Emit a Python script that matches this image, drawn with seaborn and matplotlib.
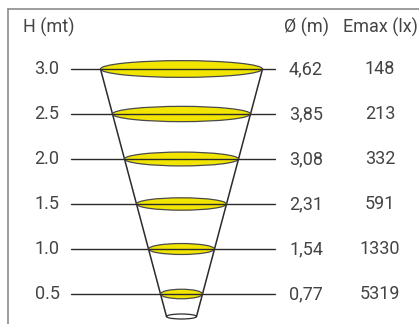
import numpy as np
import pandas as pd
import matplotlib
matplotlib.use("Agg")
import matplotlib.pyplot as plt
import seaborn as sns
from matplotlib.patches import Ellipse
from matplotlib.lines import Line2D

heights = [3.0, 2.5, 2.0, 1.5, 1.0, 0.5]
height_labels = ["3.0", "2.5", "2.0", "1.5", "1.0", "0.5"]
diameters = [4.62, 3.85, 3.08, 2.31, 1.54, 0.77]
diameter_labels = ["4,62", "3,85", "3,08", "2,31", "1,54", "0,77"]
emax = [148, 213, 332, 591, 1330, 5319]

sns.set_theme(style="white")
plt.rcParams["font.family"] = ["Roboto", "DejaVu Sans"]

W, H = 419, 324
fig = plt.figure(figsize=(W / 100, H / 100), dpi=100)
ax = fig.add_axes([0, 0, 1, 1])

# pixel scale: 90 px per metre of height, ~31.2 px per metre of diameter
px_x = 31.17
px_y = 90.0
cx = 181.5
ax.set_xlim(-cx / px_x, (W - cx) / px_x)
ax.set_ylim(3.0 - (H - 69) / px_y, 3.0 + 69 / px_y)
ax.axis("off")

stem = 0.578  # width of the fixture opening added to every ring
text_col = "#444444"
line_col = "#2b2b2b"

# horizontal reference lines, one per height
rows = pd.DataFrame({
    "x": np.tile([-3.545, 3.0], len(heights)),
    "h": np.repeat(heights, 2),
    "row": np.repeat(range(len(heights)), 2),
})
sns.lineplot(data=rows, x="x", y="h", units="row", estimator=None,
             color=line_col, lw=1.0, ax=ax, zorder=3, legend=False)

# light rings
for h, d in zip(heights, diameters):
    w = d + stem
    e_h = (7 + 0.06 * w * px_x) / px_y
    ax.add_patch(Ellipse((0, h), w, e_h, facecolor="#f2e600",
                         edgecolor="#4a4a4a", lw=0.9, zorder=2))

# cone + fixture
base_h = 0.25
base_w = stem + diameters[-1] * base_h / heights[-1]
top_w = diameters[0] + stem
for s in (-1, 1):
    ax.plot([s * top_w / 2, s * base_w / 2], [heights[0], base_h],
            color=line_col, lw=1.1, zorder=1)
ax.add_patch(Ellipse((0, base_h), base_w, 5 / px_y, facecolor="white",
                     edgecolor=line_col, lw=0.9, zorder=2))

# labels
fs = 13
x_h = (47 - cx) / px_x
x_d = (306 - cx) / px_x
x_e = (380 - cx) / px_x
y_head = 3.0 + (69 - 27) / px_y
ax.text((23 - cx) / px_x, y_head, "H (mt)", ha="left", va="center",
        fontsize=fs, color=text_col)
ax.text(x_d, y_head, "Ø (m)", ha="center", va="center", fontsize=fs, color=text_col)
ax.text(x_e, y_head, "Emax (lx)", ha="center", va="center", fontsize=fs, color=text_col)
for h, hl, dl, e in zip(heights, height_labels, diameter_labels, emax):
    ax.text(x_h, h, hl, ha="center", va="center", fontsize=fs, color=text_col)
    ax.text(x_d, h, dl, ha="center", va="center", fontsize=fs, color=text_col)
    ax.text(x_e, h, str(e), ha="center", va="center", fontsize=fs, color=text_col)

# frame (top and left edges)
fx, fy = 8 / W, 1 - 9 / H
fig.add_artist(Line2D([fx, 1], [fy, fy], transform=fig.transFigure,
                      color="#8c8c8c", lw=1.2))
fig.add_artist(Line2D([fx, fx], [0, fy], transform=fig.transFigure,
                      color="#8c8c8c", lw=1.2))

fig.savefig("out.png", dpi=100)
